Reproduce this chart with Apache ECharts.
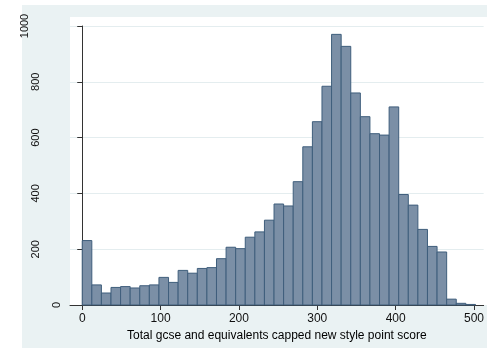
<!DOCTYPE html>
<html>
<head>
<meta charset="utf-8">
<script src="https://cdn.jsdelivr.net/npm/echarts@6/dist/echarts.min.js"></script>
<style>
  body { margin: 0; background: #fff; }
  #bg { position: absolute; left: 22px; top: 5px; width: 465px; height: 343px; background: #eaf2f3; }
  #plotbg { position: absolute; left: 70px; top: 17px; width: 417px; height: 288px; background: #fff; }
  #chart { position: absolute; left: 0; top: 0; width: 487px; height: 348px; }
</style>
</head>
<body>
<div id="bg"></div>
<div id="plotbg"></div>
<div id="chart"></div>
<script>
// histogram counts, one per bin, starting at 0
var binStart = 0
var binWidth = 12.24
var counts = [231, 72, 43, 63, 66, 61, 69, 72, 99, 81, 124, 114, 131, 134, 166, 207, 202, 243, 262, 304,
  362, 355, 442, 567, 657, 784, 970, 927, 760, 675, 614, 609, 710, 396, 358, 271, 210, 190, 21, 6, 2]
var xTicks = [0, 100, 200, 300, 400, 500]
var yTicks = [0, 200, 400, 600, 800, 1000]
var xTitle = 'Total gcse and equivalents capped new style point score'

var bins = counts.map(function(c, i) {
  return [binStart + i * binWidth, binStart + (i + 1) * binWidth, c]
})

var font = "'Liberation Sans', Arial, sans-serif"
var chart = echarts.init(document.getElementById('chart'))

chart.setOption({
  animation: false,
  grid: {
    left: 70,
    right: 0,
    top: 26,
    bottom: 43
  },
  xAxis: {
    type: 'value',
    min: -15.6,
    max: 512.3,
    name: xTitle,
    nameLocation: 'middle',
    nameGap: 19,
    nameTextStyle: { fontFamily: font, fontSize: 12, color: '#000' },
    axisLine: { lineStyle: { color: '#333', width: 1 } },
    axisTick: { length: 5, customValues: xTicks, lineStyle: { color: '#333' } },
    axisLabel: {
      customValues: xTicks,
      margin: 8,
      fontFamily: font,
      fontSize: 12,
      color: '#111'
    },
    splitLine: { show: false }
  },
  yAxis: {
    type: 'value',
    min: 0,
    max: 1000,
    interval: 200,
    axisLine: { show: true, lineStyle: { color: '#333', width: 1 } },
    axisTick: { show: true, length: 5, lineStyle: { color: '#333' } },
    axisLabel: {
      rotate: 90,
      margin: 8,
      lineHeight: 10.5,
      fontFamily: font,
      fontSize: 11,
      color: '#111',
      // stata pushes longer rotated labels further from the axis
      formatter: function(v) {
        var s = String(v)
        return s + new Array(s.length).join('\n')
      }
    },
    splitLine: { lineStyle: { color: '#e4edef', width: 1 } }
  },
  series: [
    {
      type: 'custom',
      data: bins,
      encode: { x: [0, 1], y: 2 },
      renderItem: function(params, api) {
        var top = api.coord([api.value(0), api.value(2)])
        var bottom = api.coord([api.value(1), 0])
        return {
          type: 'rect',
          shape: {
            x: top[0],
            y: top[1],
            width: bottom[0] - top[0],
            height: bottom[1] - top[1]
          },
          style: {
            fill: '#7b8fa6',
            stroke: '#3f5e7c',
            lineWidth: 1
          }
        }
      }
    }
  ]
})
</script>
</body>
</html>
